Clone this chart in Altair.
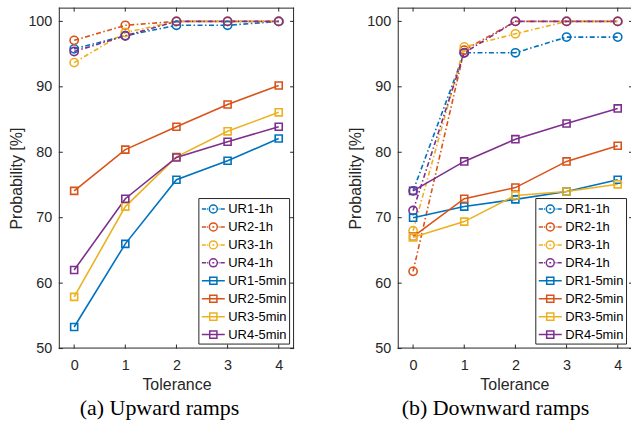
import altair as alt
import pandas as pd

# ---------------- data ----------------
TOL = [0, 1, 2, 3, 4]

UP_NAMES = ["UR1-1h", "UR2-1h", "UR3-1h", "UR4-1h",
            "UR1-5min", "UR2-5min", "UR3-5min", "UR4-5min"]
UR1_1h = [95.8, 97.8, 99.4, 99.4, 100.0]
UR2_1h = [97.1, 99.4, 100.0, 100.0, 100.0]
UR3_1h = [93.7, 98.3, 100.0, 100.0, 100.0]
UR4_1h = [95.4, 97.8, 100.0, 100.0, 100.0]
UR1_5min = [53.3, 66.0, 75.8, 78.7, 82.1]
UR2_5min = [74.1, 80.4, 83.9, 87.3, 90.2]
UR3_5min = [57.9, 71.7, 79.3, 83.2, 86.1]
UR4_5min = [62.0, 72.9, 79.2, 81.6, 83.9]

DOWN_NAMES = ["DR1-1h", "DR2-1h", "DR3-1h", "DR4-1h",
              "DR1-5min", "DR2-5min", "DR3-5min", "DR4-5min"]
DR1_1h = [74.1, 95.2, 95.2, 97.6, 97.6]
DR2_1h = [61.8, 95.6, 100.0, 100.0, 100.0]
DR3_1h = [68.0, 96.1, 98.1, 100.0, 100.0]
DR4_1h = [71.1, 95.2, 100.0, 100.0, 100.0]
DR1_5min = [70.0, 71.7, 72.8, 74.0, 75.8]
DR2_5min = [67.1, 72.9, 74.6, 78.6, 81.0]
DR3_5min = [67.0, 69.4, 73.4, 74.0, 75.1]
DR4_5min = [74.1, 78.6, 82.0, 84.4, 86.7]

Y_TICKS = [50, 60, 70, 80, 90, 100]
X_TICKS = [0, 1, 2, 3, 4]
CAPTIONS = ["(a) Upward ramps", "(b) Downward ramps"]

COLORS = ["#0072BD", "#D95319", "#EDB120", "#7E2F8E"] * 2
AX = "#262626"

# legend symbols: dash-dot line with circle / solid line with square
P_1H = ("M-1.44,0H-0.9M-0.78,0H-0.66M0.66,0H0.78M0.9,0H1.44"
        "M-0.12,0H0.12"
        "M0.5,0A0.5,0.5 0 1,1 -0.5,0A0.5,0.5 0 1,1 0.5,0Z")
P_5M = "M-1.44,0H1.44M-0.45,-0.45H0.45V0.45H-0.45Z"
PATHS = [P_1H] * 4 + [P_5M] * 4


def long_df(names, series):
    rows = []
    for n, vals in zip(names, series):
        res = "1h" if n.endswith("1h") else "5min"
        for t, v in zip(TOL, vals):
            rows.append({"series": n, "res": res, "tol": t, "p": v})
    return pd.DataFrame(rows)


def panel(names, series, caption, W, H, xmax, right_edge, cap_dx):
    df = long_df(names, series)
    xs = alt.Scale(domain=[-0.3, xmax], nice=False, zero=False)
    ys = alt.Scale(domain=[50, 102.1], nice=False, zero=False)
    cs = alt.Scale(domain=names, range=COLORS)
    LEG = alt.Legend(orient="bottom-right", offset=5)
    X = alt.X("tol:Q", scale=xs,
              axis=alt.Axis(values=X_TICKS, title="Tolerance", format="d"))
    Y = alt.Y("p:Q", scale=ys,
              axis=alt.Axis(values=Y_TICKS, title="Probability [%]",
                            titleX=-42, titleY=H / 2, titleBaseline="middle",
                            titleAngle=270, titleAlign="center"))
    C = alt.Color("series:N", scale=cs, title=None, legend=LEG)

    base = alt.Chart(df)
    leg = base.transform_filter("false").mark_point(
        filled=False, strokeWidth=1.5, opacity=1).encode(
        x=X, y=Y, color=C,
        shape=alt.Shape("series:N", scale=alt.Scale(domain=names, range=PATHS),
                        title=None, legend=LEG))
    l1 = base.transform_filter("datum.res == '1h'").mark_line(
        strokeWidth=1.6, strokeDash=[5, 2.5, 1.5, 2.5]).encode(
        x=X, y=Y, color=C, detail="series:N")
    p1 = base.transform_filter("datum.res == '1h'").mark_point(
        shape="circle", filled=False, size=68, strokeWidth=1.6, opacity=1).encode(
        x=X, y=Y, color=C)
    l2 = base.transform_filter("datum.res == '5min'").mark_line(
        strokeWidth=1.6).encode(x=X, y=Y, color=C, detail="series:N")
    p2 = base.transform_filter("datum.res == '5min'").mark_point(
        shape="square", filled=False, size=50, strokeWidth=1.6, opacity=1).encode(
        x=X, y=Y, color=C)

    one = pd.DataFrame({"a": [0]})
    yt = pd.DataFrame({"v": Y_TICKS})
    xt = pd.DataFrame({"v": X_TICKS})
    box = [
        alt.Chart(one).mark_rule(color=AX, strokeWidth=1).encode(
            x=alt.value(0), x2=alt.value(W), y=alt.value(0.5)),
        alt.Chart(one).mark_rule(color=AX, strokeWidth=1).encode(
            x=alt.value(0), x2=alt.value(W), y=alt.value(H - 0.5)),
        alt.Chart(one).mark_rule(color=AX, strokeWidth=1).encode(
            x=alt.value(0.5), y=alt.value(0), y2=alt.value(H)),
        alt.Chart(yt).mark_rule(color=AX, strokeWidth=1).encode(
            y=alt.Y("v:Q", scale=ys), x=alt.value(0), x2=alt.value(4)),
        alt.Chart(yt).mark_rule(color=AX, strokeWidth=1).encode(
            y=alt.Y("v:Q", scale=ys),
            x=alt.value(W - 4 if right_edge else W - 2), x2=alt.value(W)),
        alt.Chart(xt).mark_rule(color=AX, strokeWidth=1).encode(
            x=alt.X("v:Q", scale=xs), y=alt.value(H), y2=alt.value(H - 4)),
        alt.Chart(xt).mark_rule(color=AX, strokeWidth=1).encode(
            x=alt.X("v:Q", scale=xs), y=alt.value(0), y2=alt.value(4)),
    ]
    if right_edge:
        box.append(alt.Chart(one).mark_rule(color=AX, strokeWidth=1).encode(
            x=alt.value(W - 0.5), y=alt.value(0), y2=alt.value(H)))

    ch = alt.layer(*box, leg, l1, p1, l2, p2).properties(
        width=W, height=H,
        title=alt.TitleParams(caption, orient="bottom", anchor="middle",
                              font="Liberation Serif", fontSize=22,
                              fontWeight="normal", color="black", offset=5,
                              frame="group", dx=cap_dx),
    )
    return ch


left = panel(UP_NAMES, [UR1_1h, UR2_1h, UR3_1h, UR4_1h,
                        UR1_5min, UR2_5min, UR3_5min, UR4_5min],
             CAPTIONS[0], 236, 342, 4.3, True, -17)
right = panel(DOWN_NAMES, [DR1_1h, DR2_1h, DR3_1h, DR4_1h,
                           DR1_5min, DR2_5min, DR3_5min, DR4_5min],
              CAPTIONS[1], 234, 342, 4.26, False, -19)

chart = alt.hconcat(left, right, spacing=53).resolve_scale(
    color="independent", shape="independent", x="independent", y="independent"
).properties(
    padding={"left": 9, "top": 6, "right": 0, "bottom": 0},
    background="white",
).configure_view(stroke=None).configure_axis(
    domain=False, ticks=False, grid=False,
    labelFont="Liberation Sans", labelFontSize=14.4, labelColor=AX,
    titleFont="Liberation Sans", titleFontSize=16, titleFontWeight="normal",
    titleColor=AX, labelPadding=10, titlePadding=5,
).configure_axisY(labelPadding=7).configure_legend(
    labelFont="Liberation Sans", labelFontSize=13, labelColor="black",
    strokeColor=AX, fillColor="white", padding=2, symbolSize=256,
    symbolStrokeWidth=1.5, rowPadding=2, labelOffset=6, symbolOffset=4,
    cornerRadius=0, strokeWidth=1,
)

chart.save("out.html", embed_options={"renderer": "svg", "actions": False})
